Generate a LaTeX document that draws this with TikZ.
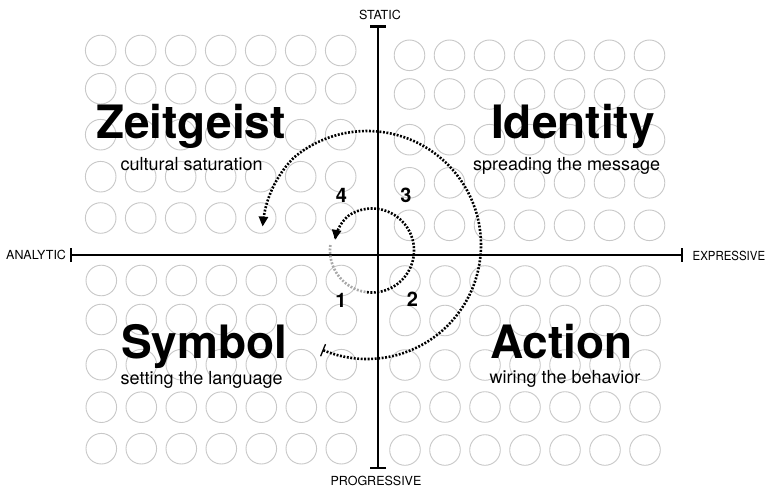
\documentclass[tikz,border=0pt]{standalone}
\usepackage{fontspec}
\setmainfont{TeX Gyre Heros}
\usetikzlibrary{arrows.meta}
\definecolor{ringgray}{HTML}{C8C8C8}
\definecolor{startgray}{HTML}{A8A8A8}
\begin{document}
\begin{tikzpicture}[x=1pt,y=-1pt,
  ring/.style={draw=ringgray, line width=0.9pt},
  axisline/.style={line width=2.4pt},
  axislabel/.style={font=\fontsize{12.5}{14}\selectfont, inner sep=0pt},
  titletext/.style={font=\fontsize{46}{50}\selectfont\bfseries, inner sep=0pt, anchor=base west},
  subtext/.style={font=\fontsize{18}{20}\selectfont, inner sep=0pt, anchor=base west},
  numtext/.style={font=\fontsize{20}{22}\selectfont\bfseries, inner sep=0pt},
  dotline/.style={line width=2.6pt, dash pattern=on 1.9pt off 1.6pt},
]
\useasboundingbox[fill=white] (0,0) rectangle (766,487);

% grids of circles
\foreach \y in {50.5,88.7,134.7,176.7,218}
  \foreach \i in {0,...,6}
    \draw[ring] ({100.7+40*\i},\y) circle[radius=15.3pt];
\foreach \y in {55.3,94,139.7,182.8,225.3}
  \foreach \i in {0,...,6}
    \draw[ring] ({409.5+40*\i},\y) circle[radius=15.3pt];
\foreach \y in {280.5,319.5,364.7,407.2,448.7}
  \foreach \i in {0,...,6}
    \draw[ring] ({101.3+40*\i},\y) circle[radius=15.3pt];
\foreach \y in {281,320.5,365,407,450}
  \foreach \i in {0,...,6}
    \draw[ring] ({405+40*\i},\y) circle[radius=15.3pt];

% axes
\coordinate (top) at (378,25.5);
\coordinate (bottom) at (378,469);
\coordinate (left) at (70,255);
\coordinate (right) at (683,255);
\draw[axisline, {Bar[width=16pt]}-{Bar[width=16pt]}] (top) -- (bottom);
\draw[axisline, {Bar[width=14pt]}-{Bar[width=14pt]}] (left) -- (right);

\node[axislabel, anchor=base] (static) at (380,19.5) {STATIC};
\node[axislabel, anchor=base] (progressive) at (376,485.5) {PROGRESSIVE};
\node[axislabel, anchor=base west] (analytic) at (6,259.5) {ANALYTIC};
\node[axislabel, anchor=base west] (expressive) at (692.5,260) {\scalebox{0.915}[1]{EXPRESSIVE}};

% quadrant titles
\node[titletext] (zeit) at (96,139) {Zeitgeist};
\node[subtext] (zeitsub) at (120.5,170) {cultural saturation};
\node[titletext] (ident) at (491,139) {Identity};
\node[subtext] (identsub) at (473,170) {spreading the message};
\node[titletext] (symb) at (121,358) {Symbol};
\node[subtext] (symbsub) at (120.5,384) {setting the language};
\node[titletext] (act) at (490,358) {Action};
\node[subtext] (actsub) at (489.5,383.5) {wiring the behavior};

% numbers
\node[numtext] (n4) at (341.5,195) {4};
\node[numtext] (n3) at (406,195.5) {3};
\node[numtext] (n1) at (341,300) {1};
\node[numtext] (n2) at (412.5,299.5) {2};

% inner spiral
\draw[dotline, draw=startgray] plot[domain=187.5:97, samples=40, variable=\t]
  ({372+42*cos(\t)}, {250.5+42*sin(\t)});
\draw[dotline, -{Triangle[length=10pt,width=9pt]}] plot[domain=97:-164, samples=120, variable=\t]
  ({372+(42+0.0875*min(0,\t+124))*cos(\t)}, {250.5+(42+0.0875*min(0,\t+124))*sin(\t)});

% outer spiral
\draw[dotline, {Bar[width=13pt,line width=1.3pt]}-{Triangle[length=10pt,width=9pt]}] plot[domain=113:-170, samples=150, variable=\t]
  ({367+(114+0.2*min(0,\t+130))*cos(\t)}, {245+(114+0.2*min(0,\t+130))*sin(\t)});
\end{tikzpicture}
\end{document}
